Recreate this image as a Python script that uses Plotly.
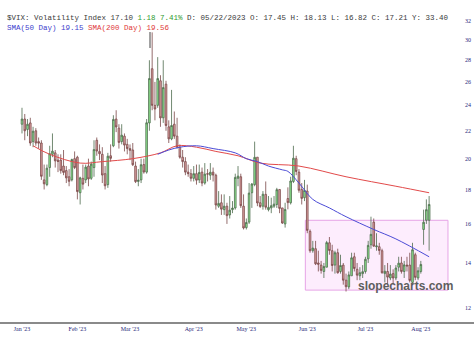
import pandas as pd
import plotly.graph_objects as go

# ---------------- data ----------------
HOLIDAYS = ["2023-01-16", "2023-02-20", "2023-04-07", "2023-05-29", "2023-06-19", "2023-07-04"]
DATES = [d.strftime("%Y-%m-%d") for d in pd.bdate_range("2023-01-03", "2023-08-04")
         if d.strftime("%Y-%m-%d") not in HOLIDAYS]

OPEN = [22.5, 22.9, 22.1, 22.6, 21.2, 22.0, 21.2, 21.1, 18.6, 18.3,
        19.4, 20.3, 20.4, 19.9, 19.9, 19.5, 19.2, 18.8, 18.6, 20.0,
        20.1, 17.8, 18.7, 18.6, 19.5, 18.7, 19.4, 21.3, 20.5, 20.3,
        19.0, 18.3, 20.2, 20.9, 22.9, 22.2, 21.2, 21.6, 21.0,
        20.7, 20.6, 19.5, 18.5, 18.6, 19.6, 19.1, 22.6, 27.2, 24.0,
        24.0, 26.1, 23.0, 25.8, 22.3, 21.4, 22.5, 21.6, 20.8, 20.1,
        19.8, 19.1, 19.0,
        18.7, 19.0, 18.6, 19.1, 18.4, 19.0, 18.9, 19.1, 18.9, 17.0,
        17.2, 16.8, 17.0, 16.5, 16.8, 16.9, 18.7, 18.8, 17.0,
        15.8, 16.1, 17.8, 18.3, 20.1, 17.2, 17.0, 17.7, 16.8, 16.9,
        17.0, 17.1, 18.0, 16.9, 16.0, 17.45, 17.2, 18.5, 20.0, 19.1,
        18.0, 17.5,
        17.9, 15.6, 14.6, 14.7, 14.0, 13.9, 13.6, 13.8, 15.0, 14.6,
        13.9, 14.5, 13.6, 13.9, 13.2, 12.9, 13.4, 14.3, 13.7, 13.4,
        13.5,
        13.6, 14.2, 14.9, 16.1, 14.8, 14.8, 14.6, 13.5, 13.6, 13.3,
        13.5, 13.3, 13.8, 14.0, 13.6, 13.9, 13.9, 13.1, 14.4, 13.3,
        13.6, 15.7, 16.2, 16.2]
HIGH = [23.8, 23.3, 22.9, 23.0, 22.3, 22.2, 21.5, 21.3, 19.6, 19.6,
        20.9, 21.8, 20.6, 20.3, 20.3, 20.6, 19.5, 19.3, 20.0, 20.5,
        20.2, 18.8, 19.6, 19.6, 20.0, 19.8, 21.3, 21.5, 21.0, 20.8,
        19.5, 20.4, 21.0, 23.2, 23.6, 22.5, 22.5, 21.8, 21.4,
        21.0, 21.1, 19.8, 19.3, 20.0, 20.0, 22.9, 28.0, 30.8, 26.0,
        28.3, 26.6, 28.0, 26.1, 22.8, 25.3, 23.5, 23.0, 21.0, 20.6,
        20.1, 19.6, 19.3,
        19.5, 19.6, 19.6, 19.4, 19.7, 19.3, 19.7, 19.4, 19.0, 17.9,
        17.7, 17.7, 17.2, 17.6, 17.3, 19.0, 19.5, 19.0, 17.7,
        16.3, 18.4, 18.4, 21.2, 20.1, 17.6, 17.9, 18.5, 17.6, 17.5,
        17.6, 18.1, 18.0, 16.9, 17.2, 18.13, 18.8, 20.9, 20.2, 19.3,
        18.4, 18.6,
        18.3, 15.7, 15.1, 15.1, 14.6, 14.1, 14.0, 15.1, 15.3, 14.9,
        14.6, 14.7, 14.4, 14.0, 13.5, 13.6, 14.5, 14.5, 14.0, 13.8,
        13.9,
        14.3, 15.1, 16.4, 16.3, 15.5, 15.0, 14.7, 13.9, 14.0, 13.9,
        13.7, 13.9, 14.3, 14.3, 14.1, 14.3, 14.5, 15.0, 14.5, 13.8,
        14.1, 16.8, 17.4, 17.6]
LOW = [21.8, 21.3, 21.6, 20.9, 20.8, 20.9, 20.7, 18.6, 18.0, 18.2,
       18.8, 20.1, 19.4, 19.1, 19.0, 18.9, 18.4, 18.2, 18.5, 19.3,
       17.4, 17.1, 18.0, 18.4, 18.2, 18.6, 18.8, 20.2, 19.9, 18.4,
       18.0, 18.1, 19.8, 20.8, 21.9, 20.7, 21.0, 20.5, 20.3,
       19.9, 19.5, 18.4, 18.2, 18.4, 19.0, 19.0, 22.0, 23.6, 22.8,
       23.8, 22.3, 22.6, 22.0, 21.1, 21.3, 21.4, 20.7, 20.0, 19.4,
       18.9, 18.8, 18.5,
       18.5, 18.3, 18.4, 18.2, 18.3, 18.5, 18.6, 18.5, 16.8, 16.9,
       16.5, 16.5, 16.0, 16.3, 16.6, 16.8, 18.2, 16.9, 15.7,
       15.7, 16.0, 16.9, 18.2, 17.0, 16.9, 16.8, 16.8, 16.7, 16.6,
       16.9, 16.9, 16.6, 16.0, 15.8, 16.82, 17.1, 18.4, 18.9, 17.8,
       17.1, 17.3,
       15.5, 14.5, 14.5, 13.9, 13.6, 13.5, 13.3, 13.8, 14.4, 13.6,
       13.5, 13.5, 13.5, 13.0, 12.7, 12.8, 13.4, 13.6, 13.2, 13.2,
       13.3,
       13.5, 14.0, 14.7, 14.8, 14.6, 14.4, 13.5, 13.1, 13.0, 13.2,
       13.0, 13.2, 13.6, 13.5, 13.3, 13.6, 13.1, 13.0, 13.2, 13.2,
       13.5, 14.9, 16.0, 14.6]
CLOSE = [22.9, 22.0, 22.5, 21.1, 21.97, 21.1, 21.09, 18.83, 18.35, 19.36,
         20.34, 20.52, 19.85, 19.81, 19.20, 19.08, 18.73, 18.51, 19.94, 19.40,
         17.87, 18.73, 18.33, 19.43, 18.66, 19.63, 20.63, 20.53, 20.34, 18.91,
         18.23, 20.17, 20.02, 22.87, 22.29, 21.14, 21.67, 20.95, 20.70,
         20.58, 19.59, 18.49, 18.58, 19.59, 19.11, 22.61, 26.3, 24.0, 23.7,
         26.3, 22.99, 25.5, 22.4, 21.4, 22.4, 21.6, 20.8, 20.1, 19.8,
         19.1, 19.0, 18.7,
         19.0, 18.58, 19.08, 18.40, 18.97, 18.97, 19.09, 18.91, 17.07, 17.16,
         16.83, 17.00, 16.46, 16.77, 16.89, 18.76, 18.84, 17.03, 15.78,
         16.08, 17.78, 18.34, 20.09, 17.19, 16.98, 17.71, 16.94, 16.93, 17.03,
         17.12, 17.99, 16.87, 16.05, 16.81, 17.21, 18.53, 20.03, 19.14, 17.95,
         17.46, 17.94,
         15.65, 14.60, 14.73, 13.96, 13.94, 13.65, 13.83, 15.01, 14.61, 13.88,
         14.50, 13.54, 13.88, 13.20, 12.91, 13.44, 14.25, 13.74, 13.43, 13.54,
         13.59,
         14.18, 14.87, 15.44, 14.83, 14.84, 14.61, 13.54, 13.61, 13.34, 13.48,
         13.30, 13.76, 13.99, 13.60, 13.91, 13.86, 13.19, 14.65, 13.33, 13.63,
         13.93, 16.09, 16.8, 17.10]

# moving averages (date, value)
SMA50_DATES = ["2023-03-15", "2023-03-21", "2023-03-27", "2023-04-04", "2023-04-13",
               "2023-04-25", "2023-05-01", "2023-05-05", "2023-05-11", "2023-05-18",
               "2023-05-22", "2023-05-26", "2023-06-05", "2023-06-13", "2023-06-22",
               "2023-07-07", "2023-07-19", "2023-08-04"]
SMA50_VALUES = [20.3, 20.6, 20.8, 20.9, 20.7, 20.4, 20.0, 19.8, 19.5, 19.25,
                19.15, 18.4, 17.4, 16.9, 16.4, 15.7, 15.2, 14.3]
SMA200_DATES = ["2023-01-09", "2023-01-18", "2023-02-02", "2023-02-14", "2023-03-02",
                "2023-03-16", "2023-03-24", "2023-04-04", "2023-04-14", "2023-04-26",
                "2023-05-08", "2023-05-26", "2023-06-22", "2023-07-19", "2023-08-04"]
SMA200_VALUES = [20.9, 20.3, 19.7, 19.8, 20.0, 20.4, 20.9, 20.8, 20.5, 20.2,
                 19.7, 19.5, 18.8, 18.2, 17.8]

MONTH_LABELS = ["Jan '23", "Feb '23", "Mar '23", "Apr '23", "May '23", "Jun '23", "Jul '23", "Aug '23"]
Y_TICKS = [12, 14, 16, 18, 20, 22, 24, 26, 28, 30, 32]

# highlighted zone (trading-day positions and price levels)
BOX_START, BOX_END = 102.3, 153.8
BOX_LOW, BOX_HIGH = 12.76, 16.2

# ---------------- figure ----------------
pos = {d: i for i, d in enumerate(DATES)}
X = list(range(len(DATES)))

month_first = []
seen = set()
for i, d in enumerate(DATES):
    m = d[:7]
    if m not in seen:
        seen.add(m)
        month_first.append(i)

fig = go.Figure()

# pink zone as a single floating bar (bar layer sits underneath candles and lines)
fig.add_trace(go.Bar(
    x=[(BOX_START + BOX_END) / 2], width=[BOX_END - BOX_START],
    base=[BOX_LOW], y=[BOX_HIGH - BOX_LOW],
    marker=dict(color="#fdedfd", line=dict(color="#e6a4e6", width=1)),
    hoverinfo="skip", showlegend=False))

fig.add_trace(go.Scatter(x=[pos[d] for d in SMA200_DATES], y=SMA200_VALUES, mode="lines",
                         line=dict(color="#e24a4a", width=1, shape="spline"),
                         hoverinfo="skip", showlegend=False))
fig.add_trace(go.Scatter(x=[pos[d] for d in SMA50_DATES], y=SMA50_VALUES, mode="lines",
                         line=dict(color="#4b4bd6", width=1, shape="spline"),
                         hoverinfo="skip", showlegend=False))

fig.add_trace(go.Candlestick(
    x=X, open=OPEN, high=HIGH, low=LOW, close=CLOSE, text=DATES,
    increasing=dict(fillcolor="#90ec90", line=dict(color="#4d6b4d", width=0.8)),
    decreasing=dict(fillcolor="#dea3a3", line=dict(color="#7a4848", width=0.8)),
    whiskerwidth=0, showlegend=False))

PLOT_H = 322.0
title1 = ('$VIX: Volatility Index 17.10 <span style="color:#2e9a2e">1.18 7.41%</span> '
          'D: 05/22/2023 O: 17.45 H: 18.13 L: 16.82 C: 17.21 Y: 33.40')
title2 = ('<span style="color:#4040cc">SMA(50 Day) 19.15</span> '
          '<span style="color:#e03a3a">SMA(200 Day) 19.56</span>')
mono = dict(family="Liberation Mono, Courier New, monospace", size=7.5, color="#3a3a3a")
fig.add_annotation(text=title1, xref="paper", yref="paper", x=5 / 474, y=1 - 18 / PLOT_H,
                   xanchor="left", yanchor="middle", showarrow=False, font=mono)
fig.add_annotation(text=title2, xref="paper", yref="paper", x=5 / 474, y=1 - 28 / PLOT_H,
                   xanchor="left", yanchor="middle", showarrow=False, font=mono)
fig.add_annotation(text="<b>slopecharts.com</b>", xref="paper", yref="paper",
                   x=405 / 474, y=1 - 286 / PLOT_H, xanchor="center", yanchor="middle",
                   showarrow=False,
                   font=dict(family="Liberation Sans, Arial, sans-serif", size=12, color="#5e5e5e"))
fig.add_shape(type="line", xref="paper", yref="paper", x0=150 / 474, x1=150 / 474,
              y0=1 - 32 / PLOT_H, y1=1 - 48 / PLOT_H, line=dict(color="#444", width=1))

tickfont = dict(family="Liberation Serif, Times New Roman, serif", size=6, color="#27277a")
fig.update_layout(
    width=474, height=341,
    margin=dict(l=0, r=0, t=0, b=19, pad=0),
    paper_bgcolor="white", plot_bgcolor="white",
    showlegend=False, boxgap=0.15, barmode="overlay",
    xaxis=dict(range=[-7.94, 163.2], tickmode="array", tickvals=month_first, ticktext=MONTH_LABELS,
               showgrid=False, zeroline=False, showline=True, linecolor="#8a8a8a", linewidth=2,
               ticks="", tickfont=tickfont, rangeslider=dict(visible=False), fixedrange=True),
    yaxis=dict(type="log", range=[1.0585, 1.5366], side="right", ticklabelposition="inside",
               tickmode="array", tickvals=Y_TICKS, ticktext=[str(v) for v in Y_TICKS],
               showgrid=False, zeroline=False, showline=False, ticks="", tickfont=tickfont,
               fixedrange=True),
)

fig.write_html("out.html")
